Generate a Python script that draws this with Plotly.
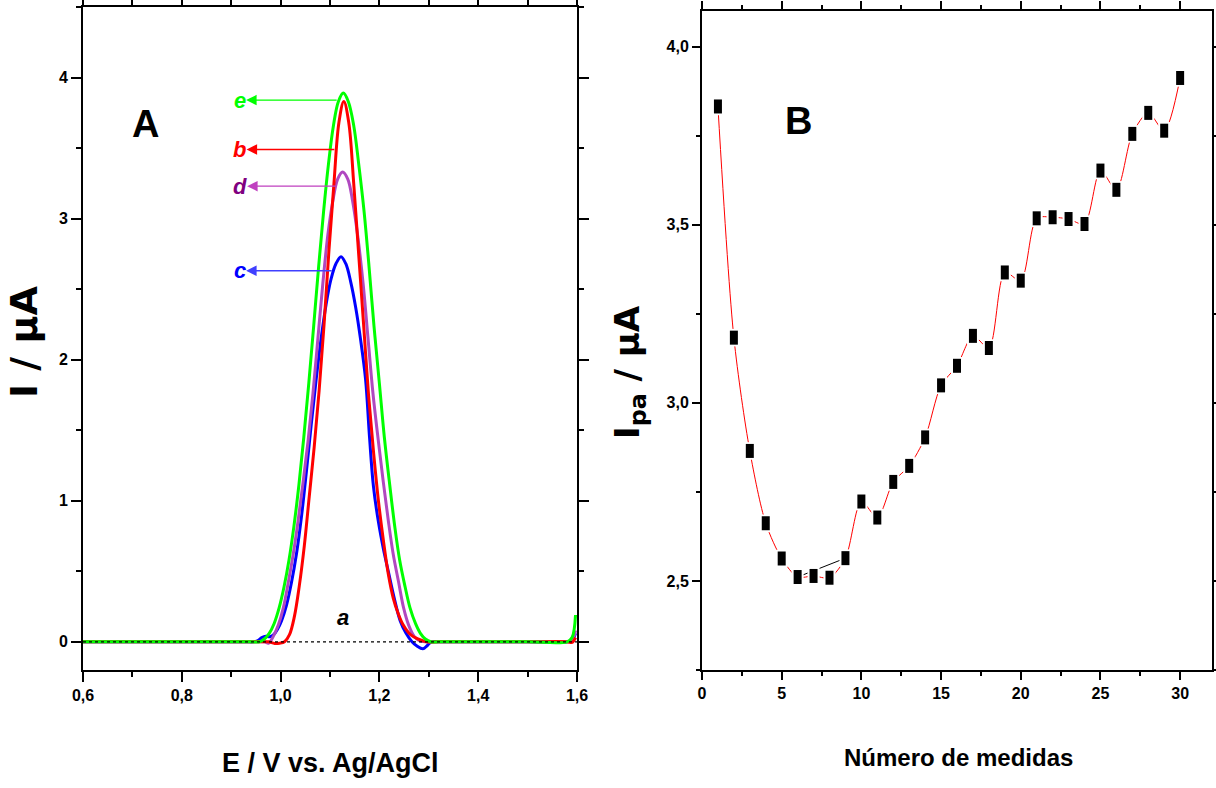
import plotly.graph_objects as go

W, H = 1216, 788

# ---------------- Panel A: voltammograms ----------------
E_a = [0.60, 1.60]
I_a = [0.0, 0.0]

E_b = [0.60, 0.80, 0.94, 0.96, 0.975, 0.988, 0.998, 1.008, 1.018, 1.028, 1.038, 1.048, 1.058, 1.068,
       1.078, 1.088, 1.098, 1.108, 1.118, 1.128, 1.138, 1.148, 1.158, 1.168, 1.178, 1.188,
       1.198, 1.208, 1.218, 1.228, 1.238, 1.248, 1.263, 1.278, 1.296, 1.32, 1.40, 1.50, 1.58,
       1.59, 1.597]
I_b = [0.0, 0.0, 0.0, 0.0, 0.0, -0.012, -0.01, 0.0, 0.05, 0.18, 0.40, 0.68, 1.03, 1.38,
       1.78, 2.25, 2.78, 3.25, 3.68, 3.83, 3.68, 3.25, 2.75, 2.25, 1.75, 1.35,
       1.00, 0.72, 0.48, 0.31, 0.20, 0.12, 0.05, 0.02, 0.0, 0.0, 0.0, 0.0, 0.0,
       -0.005, 0.03]

E_c = [0.60, 0.80, 0.93, 0.945, 0.955, 0.962, 0.970, 0.978, 0.986, 0.994, 1.002, 1.012, 1.022,
       1.032, 1.042, 1.052, 1.062, 1.072, 1.082, 1.092, 1.102, 1.112, 1.1223, 1.132, 1.142,
       1.152, 1.162, 1.172, 1.180, 1.188, 1.198, 1.208, 1.218, 1.230, 1.242, 1.254, 1.266,
       1.276, 1.288, 1.296, 1.305, 1.32, 1.40, 1.50, 1.58, 1.59, 1.597]
I_c = [0.0, 0.0, 0.0, 0.0, 0.01, 0.03, 0.04, 0.035, 0.05, 0.09, 0.15, 0.26, 0.42,
       0.62, 0.88, 1.20, 1.54, 1.86, 2.15, 2.39, 2.57, 2.68, 2.73, 2.68, 2.55,
       2.37, 2.14, 1.86, 1.45, 1.10, 0.85, 0.66, 0.50, 0.31, 0.15, 0.06, 0.0,
       -0.03, -0.05, -0.03, 0.0, 0.0, 0.0, 0.0, 0.0, 0.01, 0.06]

E_d = [0.60, 0.80, 0.94, 0.96, 0.968, 0.9755, 0.9855, 0.9955, 1.0055, 1.0155, 1.0255, 1.0355,
       1.0455, 1.0555, 1.0655, 1.0755, 1.0855, 1.0955, 1.1055, 1.1155, 1.1255, 1.136, 1.146,
       1.156, 1.167, 1.177, 1.187, 1.198, 1.208, 1.218, 1.228, 1.239, 1.249, 1.259, 1.270,
       1.280, 1.292, 1.32, 1.40, 1.50, 1.58, 1.59, 1.597]
I_d = [0.0, 0.0, 0.0, 0.0, 0.0, -0.01, 0.04, 0.12, 0.24, 0.42, 0.62, 0.86,
       1.13, 1.42, 1.76, 2.15, 2.54, 2.88, 3.12, 3.28, 3.33, 3.28, 3.12,
       2.88, 2.54, 2.15, 1.76, 1.42, 1.13, 0.86, 0.62, 0.42, 0.24, 0.12, 0.04,
       0.01, 0.0, 0.0, 0.0, 0.0, 0.0, 0.01, 0.08]

E_e = [0.60, 0.80, 0.94, 0.957, 0.967, 0.977, 0.987, 0.997, 1.007, 1.017, 1.027, 1.037, 1.047,
       1.057, 1.067, 1.077, 1.087, 1.097, 1.107, 1.117, 1.127, 1.137, 1.148, 1.158, 1.169,
       1.179, 1.189, 1.200, 1.210, 1.221, 1.231, 1.241, 1.252, 1.262, 1.273, 1.283, 1.293,
       1.304, 1.32, 1.40, 1.50, 1.58, 1.59, 1.597]
I_e = [0.0, 0.0, 0.0, 0.0, 0.02, 0.06, 0.13, 0.24, 0.39, 0.58, 0.82, 1.11, 1.45,
       1.83, 2.24, 2.66, 3.05, 3.39, 3.66, 3.83, 3.89, 3.83, 3.66, 3.39, 3.05,
       2.66, 2.24, 1.83, 1.45, 1.11, 0.82, 0.58, 0.39, 0.24, 0.13, 0.06, 0.02,
       0.0, 0.0, 0.0, 0.0, 0.0, 0.03, 0.19]

# curve labels with their arrows (label position E, arrow level I, arrow tail E on the curve)
curve_labels = ["e", "b", "d", "c"]
label_E = 0.917
label_levels = [3.84, 3.49, 3.23, 2.63]
arrow_tail_E = [1.1135, 1.1088, 1.1135, 1.1034]

# ---------------- Panel B: repeated measurements ----------------
n_medida = list(range(1, 31))
ipa = [3.832, 3.183, 2.865, 2.662, 2.563, 2.511, 2.514, 2.509, 2.564, 2.723,
       2.678, 2.778, 2.823, 2.903, 3.049, 3.104, 3.188, 3.154, 3.366, 3.343,
       3.518, 3.521, 3.516, 3.502, 3.652, 3.598, 3.755, 3.814, 3.764, 3.912]

SANS = "Liberation Sans, Arial, sans-serif"
HEAVY = "DejaVu Sans, Liberation Sans, sans-serif"


def px_x(p):
    return p / W


def px_y(p):
    return 1 - p / H


fig = go.Figure()

curve_style = [
    (E_c, I_c, "#0000ff"),
    (E_d, I_d, "#b048c0"),
    (E_b, I_b, "#ff0000"),
    (E_e, I_e, "#00ff00"),
]
for ex, iy, col in curve_style:
    fig.add_trace(go.Scatter(x=ex, y=iy, mode="lines", xaxis="x", yaxis="y",
                             line=dict(color=col, width=3, shape="spline", smoothing=1.0),
                             showlegend=False, hoverinfo="skip"))

fig.add_trace(go.Scatter(x=E_a, y=I_a, mode="lines", xaxis="x", yaxis="y",
                         line=dict(color="black", width=1.2, dash="dot"),
                         showlegend=False, hoverinfo="skip"))

# Panel B: red connecting spline, white gap halo, black bar markers
fig.add_trace(go.Scatter(x=n_medida, y=ipa, mode="lines", xaxis="x2", yaxis="y2",
                         line=dict(color="#ff0000", width=1, shape="spline", smoothing=0.8),
                         showlegend=False, hoverinfo="skip"))
fig.add_trace(go.Scatter(x=[n_medida[5], n_medida[8]], y=[ipa[5], ipa[8]], mode="lines",
                         xaxis="x2", yaxis="y2", line=dict(color="black", width=1),
                         showlegend=False, hoverinfo="skip"))
fig.add_trace(go.Scatter(x=n_medida, y=ipa, mode="markers", xaxis="x2", yaxis="y2",
                         marker=dict(symbol="line-ns", size=12.5, color="white",
                                     line=dict(color="white", width=12)),
                         showlegend=False, hoverinfo="skip"))
fig.add_trace(go.Scatter(x=n_medida, y=ipa, mode="markers", xaxis="x2", yaxis="y2",
                         marker=dict(symbol="line-ns", size=10, color="black",
                                     line=dict(color="black", width=8)),
                         showlegend=False))

axis_common = dict(showline=True, linecolor="black", linewidth=2, mirror="ticks",
                   ticks="outside", tickcolor="black", tickwidth=2, showgrid=False,
                   zeroline=False, automargin=False,
                   tickfont=dict(family=SANS, size=16, color="black", weight="bold"))

fig.update_layout(
    width=W, height=H, margin=dict(l=0, r=0, t=0, b=0, autoexpand=False),
    paper_bgcolor="white", plot_bgcolor="white", separators=",.",
    xaxis=dict(domain=[px_x(83), px_x(577)], range=[0.6, 1.6], dtick=0.2, tick0=0.6,
               tickformat=".1f", ticklen=10,
               minor=dict(dtick=0.1, ticklen=5, tickcolor="black", tickwidth=2, ticks="outside"),
               anchor="y", **axis_common),
    yaxis=dict(domain=[px_y(670), px_y(7)], range=[-0.2, 4.5], dtick=1, tick0=0,
               ticklen=10,
               minor=dict(dtick=0.5, ticklen=5, tickcolor="black", tickwidth=2, ticks="outside"),
               anchor="x", **axis_common),
    xaxis2=dict(domain=[px_x(702), px_x(1212)], range=[0, 32], dtick=5, tick0=0,
                ticklen=8,
                minor=dict(dtick=2.5, ticklen=4, tickcolor="black", tickwidth=2, ticks="outside"),
                anchor="y2", **axis_common),
    yaxis2=dict(domain=[px_y(670), px_y(11)], range=[2.25, 4.1], dtick=0.5, tick0=2.5,
                tickformat=".1f", ticklen=8,
                minor=dict(dtick=0.25, ticklen=4, tickcolor="black", tickwidth=2, ticks="outside"),
                anchor="x2", **axis_common),
)


def paper_text(text, cx, cy, font, angle=0):
    return dict(text=text, x=px_x(cx), y=px_y(cy), xref="paper", yref="paper",
                xanchor="center", yanchor="middle", textangle=angle, showarrow=False, font=font)


ann = []
# axis titles
ann.append(paper_text("E / V vs. Ag/AgCl", 330, 763,
                      dict(family=SANS, size=27, color="black", weight="bold")))
ann.append(paper_text("Número de medidas", 958, 757,
                      dict(family=SANS, size=24, color="black", weight="bold")))
ann.append(paper_text("I / µA", 24, 342,
                      dict(family=HEAVY, size=38, color="black", weight="bold"), angle=-90))
ann.append(paper_text("I<sub>pa</sub> / µA", 629, 372,
                      dict(family=HEAVY, size=34, color="black", weight="bold"), angle=-90))
# panel letters
ann.append(paper_text("A", 145, 124, dict(family=SANS, size=38, color="black", weight="bold")))
ann.append(paper_text("B", 798, 121, dict(family=SANS, size=38, color="black", weight="bold")))

# curve labels with arrows pointing back at the label (arrowhead on the label side)
label_colors = ["#00ff00", "#ff0000", "#800080", "#0000ff"]
arrow_colors = ["#00ff00", "#ff0000", "#c040c0", "#4040ff"]
for name, lvl, tail, lc, ac in zip(curve_labels, label_levels, arrow_tail_E, label_colors, arrow_colors):
    ann.append(dict(x=tail, y=lvl, ax=label_E, ay=lvl, xref="x", yref="y", axref="x", ayref="y",
                    text="<i>" + name + "</i>", showarrow=True, arrowside="start",
                    startarrowhead=2, startarrowsize=1.5, arrowwidth=1.4, arrowcolor=ac,
                    standoff=0, startstandoff=0, borderpad=0,
                    font=dict(family=SANS, size=22, color=lc, weight="bold")))
ann.append(dict(x=1.126, y=0.17, xref="x", yref="y", text="<i>a</i>", showarrow=False,
                xanchor="center", yanchor="middle",
                font=dict(family=SANS, size=22, color="black", weight="bold")))

fig.update_layout(annotations=ann)
fig.write_html("out.html")
